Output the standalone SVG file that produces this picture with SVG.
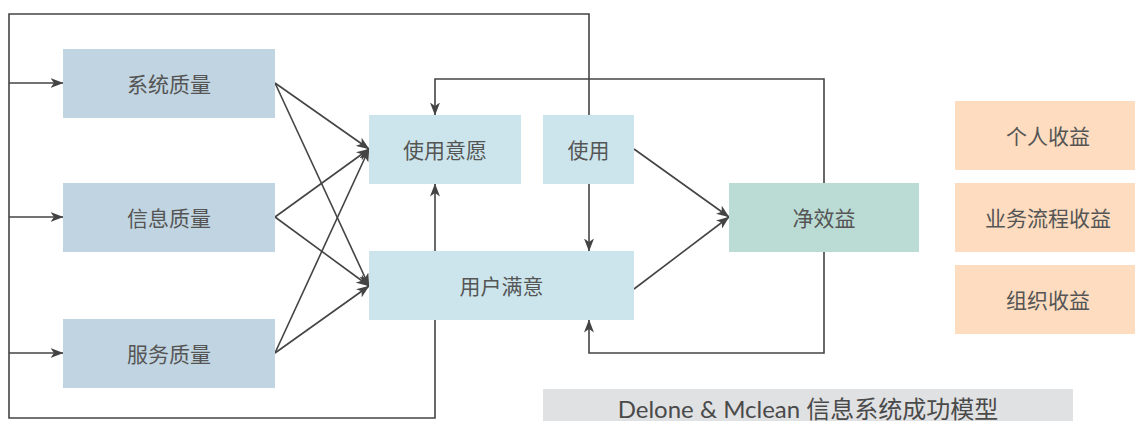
<svg xmlns="http://www.w3.org/2000/svg" width="1135" height="421" viewBox="0 0 1135 421">
<style>
.t{font-family:Lato,"Noto Sans CJK SC",sans-serif;font-size:21px;fill:#555;text-anchor:middle;dominant-baseline:central}
.q{fill:#c1d4e1}
.u{fill:#cce5ec}
.n{fill:#bbdcd5}
.b{fill:#fddcbf}
.c{fill:none;stroke:#444;stroke-width:1.6}
.a{marker-end:url(#ar)}
</style>
<defs>
<marker id="ar" markerUnits="userSpaceOnUse" markerWidth="13" markerHeight="10" refX="12.5" refY="5" orient="auto" viewBox="0 0 13 10">
<path d="M0,0 L13,5 L0,10 L3.5,5 Z" fill="#444"/>
</marker>
</defs>
<g id="connectors">
<path class="c" d="M435,320 V418 H9 V14 H589 V115"/>
<path class="c a" d="M9,83 H63"/>
<path class="c a" d="M9,217 H63"/>
<path class="c a" d="M9,353 H63"/>
<path class="c a" d="M275,83 L369,149"/>
<path class="c a" d="M275,83 L369,286"/>
<path class="c a" d="M275,217 L369,149"/>
<path class="c a" d="M275,217 L369,286"/>
<path class="c a" d="M275,353 L369,149"/>
<path class="c a" d="M275,353 L369,286"/>
<path class="c a" d="M435,251 V184"/>
<path class="c a" d="M589,184 V251"/>
<path class="c a" d="M634,149 L729,217"/>
<path class="c a" d="M634,289 L729,217"/>
<path class="c a" d="M824,183 V79 H435 V115"/>
<path class="c a" d="M824,252 V353 H589 V320"/>
</g>
<g id="n-sys"><rect class="q" x="63" y="49" width="212" height="69"/><text class="t" x="169" y="83.5">系统质量</text></g>
<g id="n-info"><rect class="q" x="63" y="183" width="212" height="69"/><text class="t" x="169" y="217.5">信息质量</text></g>
<g id="n-svc"><rect class="q" x="63" y="319" width="212" height="69"/><text class="t" x="169" y="353.5">服务质量</text></g>
<g id="n-intent"><rect class="u" x="369" y="115" width="152" height="69"/><text class="t" x="445" y="149.5">使用意愿</text></g>
<g id="n-use"><rect class="u" x="543" y="115" width="91" height="69"/><text class="t" x="588.5" y="149.5">使用</text></g>
<g id="n-sat"><rect class="u" x="369" y="251" width="265" height="69"/><text class="t" x="501.5" y="285.5">用户满意</text></g>
<g id="n-net"><rect class="n" x="729" y="183" width="190" height="69"/><text class="t" x="824" y="217.5">净效益</text></g>
<g id="n-ind"><rect class="b" x="955" y="101" width="185" height="69"/><text class="t" x="1048" y="135.5">个人收益</text></g>
<g id="n-biz"><rect class="b" x="955" y="183" width="185" height="69"/><text class="t" x="1048" y="217.5">业务流程收益</text></g>
<g id="n-org"><rect class="b" x="955" y="265" width="185" height="69"/><text class="t" x="1048" y="299.5">组织收益</text></g>
<g id="title"><rect x="543" y="389" width="530" height="34" fill="#e0e1e3"/><text x="808" y="408" font-family="Lato,'Noto Sans CJK SC',sans-serif" font-size="24" fill="#4a4a4a" text-anchor="middle" dominant-baseline="central">Delone &amp; Mclean 信息系统成功模型</text></g>
</svg>
